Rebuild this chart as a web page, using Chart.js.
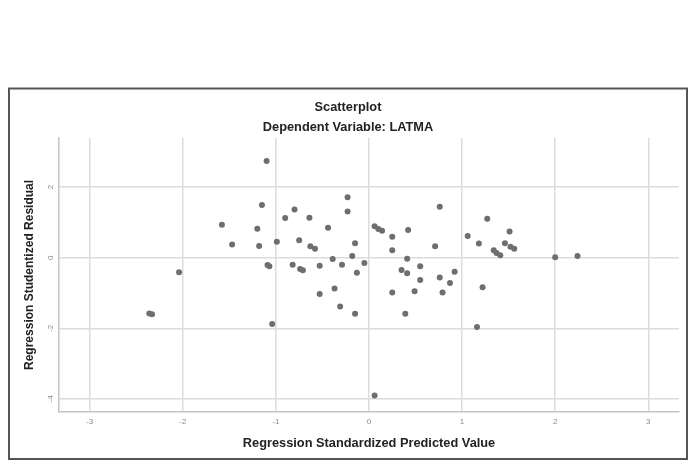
<!DOCTYPE html>
<html>
<head>
<meta charset="utf-8">
<script src="https://cdn.jsdelivr.net/npm/chart.js@4"></script>
<style>
  html, body { margin: 0; padding: 0; background: #fff; }
  #wrap { width: 693px; height: 462px; }
</style>
</head>
<body>
<div id="wrap"><canvas id="scatter" width="693" height="462"></canvas></div>
<script>
// Regression Standardized Predicted Value (x) / Studentized Residual (y)
const predicted = [-2.36,-2.33,-2.04,-1.58,-1.47,-1.10,-1.15,-1.20,-1.18,-1.09,-1.07,-0.99,-1.04,-0.90,-0.80,-0.64,-0.75,-0.63,-0.58,-0.82,
  -0.74,-0.71,-0.53,-0.44,-0.39,-0.53,-0.37,-0.31,-0.23,-0.23,-0.15,-0.18,-0.29,-0.13,-0.15,-0.05,0.06,0.10,0.14,0.25,
  0.42,0.25,0.76,0.71,0.41,0.35,0.41,0.55,0.55,0.25,0.49,0.39,0.76,0.79,0.87,0.92,1.06,1.18,1.22,1.16,
  1.27,1.51,1.34,1.37,1.41,1.46,1.52,1.56,2.00,2.24,0.06]
const residual = [-1.58,-1.60,-0.41,0.93,0.37,2.74,1.49,0.82,0.33,-0.21,-0.24,0.45,-1.88,1.12,1.36,1.13,0.49,0.32,0.25,-0.20,
  -0.32,-0.36,-0.23,0.85,-0.04,-1.03,-0.87,-1.38,1.71,1.31,0.41,0.05,-0.20,-0.43,-1.59,-0.15,0.89,0.81,0.76,0.59,
  0.78,0.21,1.44,0.32,-0.03,-0.35,-0.44,-0.24,-0.63,-0.99,-0.95,-1.59,-0.56,-0.99,-0.72,-0.40,0.61,0.40,-0.84,-1.96,
  1.10,0.74,0.21,0.13,0.07,0.41,0.31,0.25,0.01,0.05,-3.90]
const xTicks = [-3,-2,-1,0,1,2,3]
const yTicks = [-4,-2,0,2]

const FONT = '"Liberation Sans", Arial, sans-serif'
const points = predicted.map((x, i) => ({x: x, y: residual[i]}))

// outer frame round the whole chart
const frame = {
  id: 'frame',
  afterDraw(chart) {
    const ctx = chart.ctx
    ctx.save()
    ctx.strokeStyle = '#555'
    ctx.lineWidth = 2
    ctx.strokeRect(9, 88.5, 678, 370.5)
    ctx.restore()
  }
}

// y tick labels are turned sideways like in SPSS
const yTickLabels = {
  id: 'yTickLabels',
  afterDraw(chart) {
    const s = chart.scales.y
    const ctx = chart.ctx
    ctx.save()
    ctx.font = '8px ' + FONT
    ctx.fillStyle = '#8a8a8a'
    ctx.textAlign = 'center'
    ctx.textBaseline = 'middle'
    s.ticks.forEach(t => {
      ctx.save()
      ctx.translate(s.right - 8, s.getPixelForValue(t.value))
      ctx.rotate(-Math.PI / 2)
      ctx.fillText(String(t.value), 0, 0)
      ctx.restore()
    })
    ctx.restore()
  }
}

const config = {
  type: 'scatter',
  data: {
    datasets: [{
      data: points,
      backgroundColor: '#6e6e6e',
      borderColor: '#6e6e6e',
      borderWidth: 0,
      pointRadius: 3,
    }]
  },
  options: {
    responsive: false,
    animation: false,
    layout: { padding: { left: 17, right: 14, top: 98, bottom: 6 } },
    plugins: {
      legend: { display: false },
      tooltip: { enabled: false },
      title: {
        display: true,
        text: 'Scatterplot',
        color: '#222',
        font: { family: FONT, size: 12.8, weight: 'bold' },
        padding: { top: 1.3, bottom: 5.6 }
      },
      subtitle: {
        display: true,
        text: 'Dependent Variable: LATMA',
        color: '#222',
        font: { family: FONT, size: 12.8, weight: 'bold' },
        padding: { top: 0, bottom: 2.3 }
      }
    },
    scales: {
      x: {
        type: 'linear',
        min: -3.33,
        max: 3.33,
        afterBuildTicks: s => { s.ticks = xTicks.map(v => ({value: v})) },
        afterFit: s => { s.height = 44 },
        grid: { color: '#dcdcdc', lineWidth: 1.5, drawTicks: false },
        border: { color: '#c4c4c4', width: 1.5 },
        ticks: { color: '#8a8a8a', padding: 5, font: { family: FONT, size: 8 } },
        title: {
          display: true,
          text: 'Regression Standardized Predicted Value',
          color: '#222',
          font: { family: FONT, size: 12.8, weight: 'bold' },
          padding: { top: 0, bottom: 5.3 }
        }
      },
      y: {
        type: 'linear',
        min: -4.37,
        max: 3.39,
        afterBuildTicks: s => { s.ticks = yTicks.map(v => ({value: v})) },
        afterFit: s => { s.width = 42 },
        grid: { color: '#dcdcdc', lineWidth: 1.5, drawTicks: false },
        border: { color: '#c4c4c4', width: 1.5 },
        ticks: { display: false },
        title: {
          display: true,
          text: 'Regression Studentized Residual',
          color: '#222',
          font: { family: FONT, size: 12, weight: 'bold' },
          padding: { top: 5.8, bottom: 0 }
        }
      }
    }
  },
  plugins: [frame, yTickLabels]
}

const chart = new Chart(document.getElementById('scatter'), config)
</script>
</body>
</html>
